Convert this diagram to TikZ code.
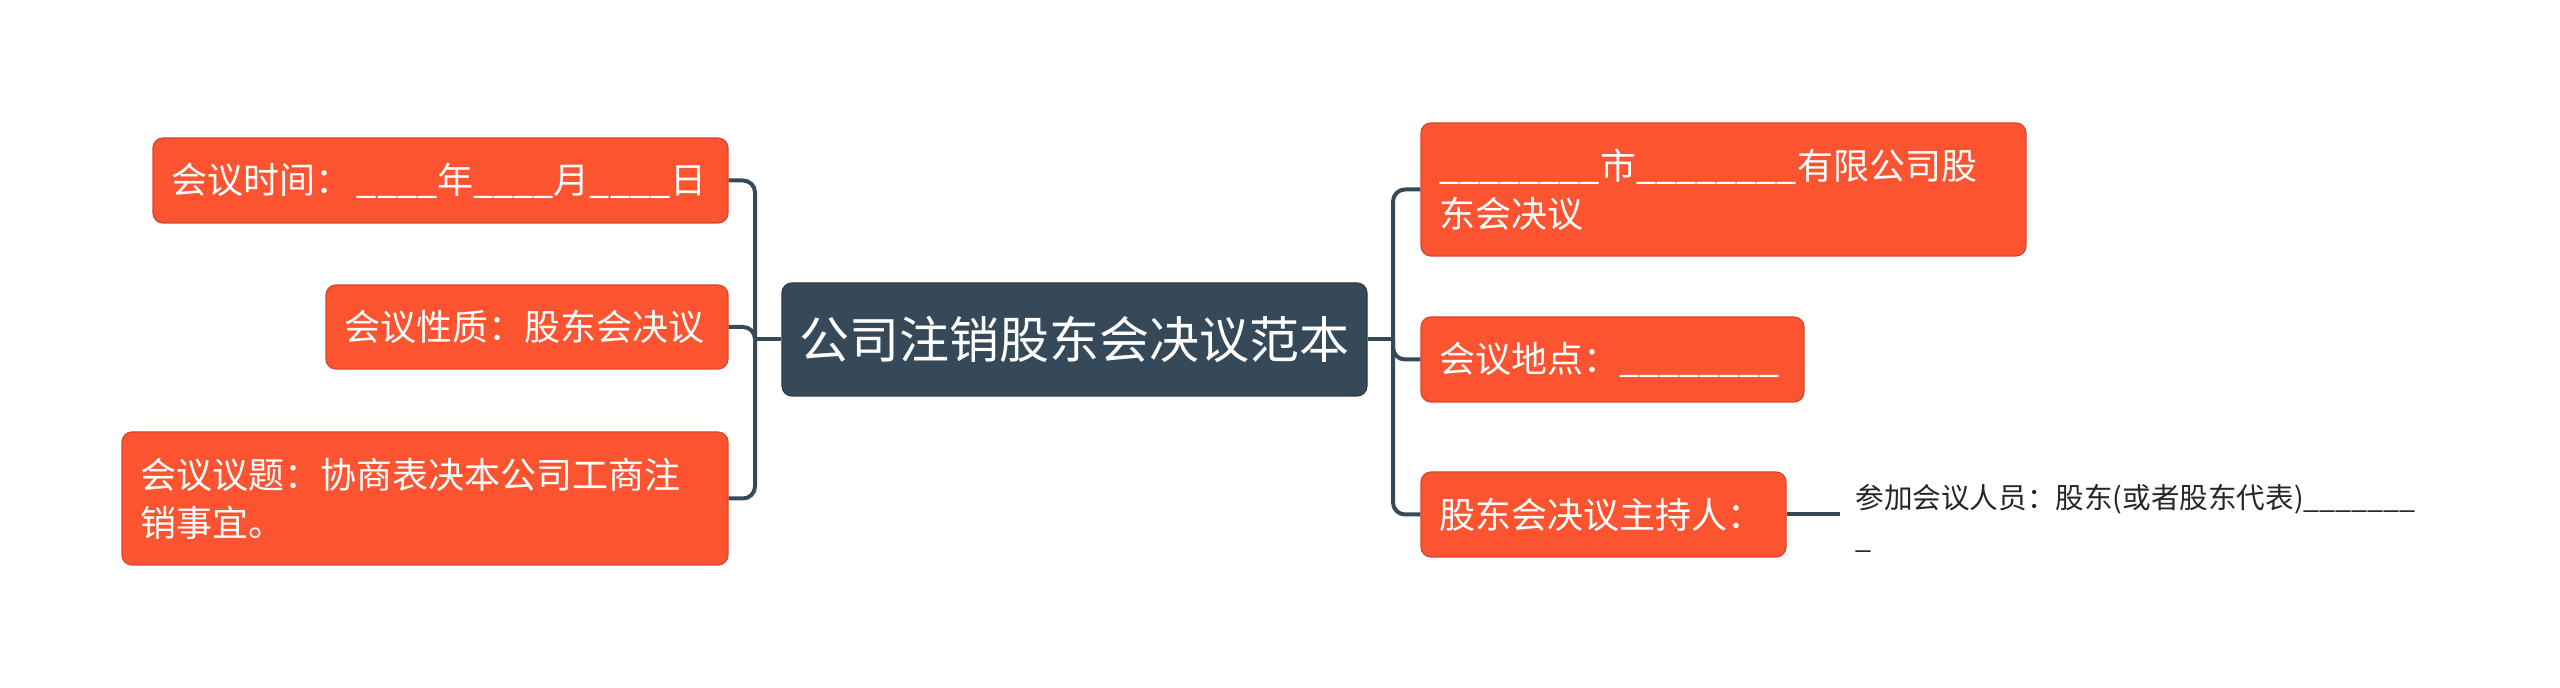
\documentclass[tikz,border=0pt]{standalone}
\usepackage{fontspec}
\newfontfamily\cjk{Noto Sans CJK SC}
\definecolor{rootblue}{HTML}{364959}
\definecolor{leafred}{HTML}{FC5430}
\newcommand{\blankline}[1]{\foreach \k in {1,...,#1}{\_}}

\begin{document}
\begin{tikzpicture}[x=0.5pt,y=-0.5pt,
    rootbox/.style={fill=rootblue, draw=rootblue!80!black, line width=0.6pt, rounded corners=5pt,
      text=white, font=\cjk\fontsize{25pt}{31pt}\selectfont,
      minimum width=292.5pt, minimum height=56.5pt, inner sep=0pt},
    topic/.style={fill=leafred, draw=leafred!85!black, line width=0.6pt, rounded corners=5pt,
      text=white, font=\cjk\fontsize{18pt}{24pt}\selectfont,
      align=left, inner xsep=9pt, inner ysep=0pt},
    link/.style={draw=rootblue, line width=2pt, rounded corners=6pt},
    note/.style={font=\cjk\fontsize{14.3pt}{20pt}\selectfont, text=black!85,
      align=left, inner xsep=7.5pt, inner ysep=0pt}]
    \useasboundingbox (0,0) rectangle (2560,688);
    % centre
    \node[rootbox] (root) at (1074.5,339.5) {公司注销股东会决议范本};
    % left side
    \node[topic, text width=269.5pt, minimum height=42.5pt] (time) at (440.5,180.5)
      {会议时间：\,\blankline{4}年\blankline{4}月\blankline{4}日};
    \node[topic, text width=183pt, minimum height=42pt] (nature) at (527,327)
      {会议性质：股东会决议};
    \node[topic, text width=285pt, minimum height=66.5pt] (subject) at (425,498.5)
      {会议议题：协商表决本公司工商注\\销事宜。};
    % right side
    \node[topic, text width=284.5pt, minimum height=66.5pt] (city) at (1723.5,189.5)
      {\blankline{8}市\blankline{8}有限公司股\\东会决议};
    \node[topic, text width=173.5pt, minimum height=42.5pt] (place) at (1612.5,359.5)
      {会议地点：\blankline{8}};
    \node[topic, text width=164.5pt, minimum height=42.5pt] (host) at (1603.5,514.5)
      {股东会决议主持人：};
    \node[note, anchor=west] (attend) at (1840,518)
      {参加会议人员：股东(或者股东代表)\blankline{7}\\\_};
    % connectors
    \coordinate (lj) at (755,339.5);
    \coordinate (rj) at (1393,339.5);
    \draw[link] (root.west) -- (lj);
    \foreach \n in {time,nature,subject}
      \draw[link] (lj) |- (\n.east);
    \draw[link] (root.east) -- (rj);
    \foreach \n in {city,place,host}
      \draw[link] (rj) |- (\n.west);
    \draw[link] (host.east) -- (host.east -| attend.west);
  \end{tikzpicture}
\end{document}
